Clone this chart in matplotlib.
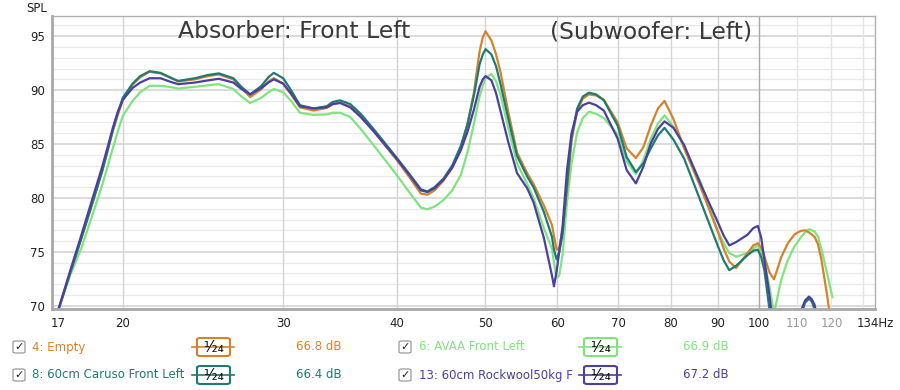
import matplotlib
matplotlib.use("Agg")
import matplotlib.pyplot as plt
from matplotlib.patches import FancyBboxPatch
from matplotlib.lines import Line2D
from matplotlib.ticker import NullLocator

# frequency grid (Hz) shared by all four measurements, 10 per line
freq = [16.9, 17.5, 18.0, 18.5, 19.0, 19.5, 19.75, 20.0, 20.5, 20.9,
        21.4, 22.0, 22.5, 23.0, 24.0, 24.8, 25.5, 26.45, 27.0, 27.6,
        28.4, 28.9, 29.3, 30.0, 30.6, 31.3, 32.4, 33.5, 34.0, 34.65,
        35.55, 36.5, 37.7, 40.0, 41.3, 42.5, 43.2, 44.0, 45.0, 46.0,
        47.0, 47.8, 48.6, 49.3, 49.7, 50.05, 50.8, 51.4, 52.0, 53.0,
        54.2, 55.6, 56.5, 58.0, 59.2, 59.5, 59.9, 60.3, 60.8, 61.5,
        62.2, 63.1, 64.0, 65.0, 66.2, 67.5, 69.9, 71.5, 73.2, 74.6,
        76.0, 77.4, 78.7, 80.5, 82.7, 86.3, 90.0, 91.4, 92.7, 94.3,
        97.1, 98.5, 99.65, 100.5, 101.3, 102.6, 103.8, 104.6, 105.7, 107.5,
        109.3, 110.2, 111.2, 112.3, 113.4, 114.2, 115.0, 116.0, 117.0, 118.7,
        120.3]

empty = [69.0, 73.0, 76.2, 79.4, 82.6, 86.2, 87.7, 89.1, 90.5, 91.2,
         91.7, 91.55, 91.2, 90.8, 91.0, 91.3, 91.45, 91.0, 90.2, 89.35,
         90.1, 90.8, 91.1, 90.6, 89.6, 88.4, 88.1, 88.35, 88.7, 88.85,
         88.45, 87.6, 86.2, 83.5, 81.9, 80.4, 80.3, 80.7, 81.6, 82.8,
         84.6, 86.8, 89.8, 93.6, 94.9, 95.45, 94.6, 93.3, 91.6, 88.0,
         84.2, 82.3, 81.3, 79.3, 77.5, 76.5, 75.2, 75.4, 77.0, 80.8,
         85.3, 88.1, 89.2, 89.6, 89.5, 89.1, 87.0, 84.6, 83.7, 84.7,
         86.7, 88.3, 89.0, 87.3, 84.6, 80.9, 76.9, 75.3, 74.1, 73.5,
         74.9, 75.6, 75.8, 75.4, 74.6, 73.1, 72.45, 73.3, 74.5, 75.8,
         76.6, 76.8, 76.95, 77.0, 76.8, 76.6, 76.4, 75.7, 74.3, 71.0,
         67.5]

avaa = [69.0, 72.8, 75.3, 78.3, 81.3, 84.6, 86.2, 87.6, 89.0, 89.8,
        90.4, 90.4, 90.3, 90.15, 90.3, 90.45, 90.55, 90.1, 89.4, 88.8,
        89.3, 89.8, 90.1, 89.8, 89.0, 87.9, 87.7, 87.75, 87.9, 87.9,
        87.5, 86.4, 84.9, 82.1, 80.5, 79.1, 78.95, 79.2, 79.8, 80.7,
        82.1, 84.2, 86.9, 89.4, 90.4, 91.1, 91.5, 90.8, 89.5, 86.5,
        83.2, 81.3, 80.0, 77.2, 75.3, 74.0, 72.6, 72.8, 74.7, 79.6,
        83.2, 86.1, 87.4, 88.0, 87.8, 87.4, 85.9, 83.4, 82.2, 83.5,
        85.5, 86.9, 87.66, 86.6, 84.7, 81.4, 77.0, 75.8, 74.9, 74.55,
        74.9, 75.3, 75.6, 75.0, 74.0, 71.8, 69.3, 70.6, 72.4, 74.25,
        75.5, 75.9, 76.4, 76.8, 77.1, 77.0, 76.9, 76.4, 75.3, 73.0,
        70.8]

caruso = [69.0, 73.0, 76.2, 79.4, 82.6, 86.3, 87.9, 89.3, 90.6, 91.3,
          91.75, 91.6, 91.2, 90.85, 91.1, 91.4, 91.55, 91.1, 90.3, 89.6,
          90.4, 91.2, 91.6, 91.1, 90.0, 88.6, 88.3, 88.5, 88.9, 89.05,
          88.7, 87.8, 86.4, 83.7, 82.2, 80.8, 80.6, 81.0, 81.8, 83.0,
          84.8, 86.8, 89.5, 92.4, 93.3, 93.8, 93.3, 92.2, 90.5, 87.4,
          83.9, 82.0, 81.0, 78.7, 76.4, 75.2, 74.3, 75.0, 76.6, 81.3,
          85.6, 88.3, 89.4, 89.76, 89.6, 89.05, 86.7, 83.8, 82.4, 83.2,
          84.6, 85.8, 86.5, 85.4, 83.65, 79.6, 75.6, 74.2, 73.3, 73.7,
          74.7, 75.1, 75.2, 74.5, 73.3, 69.7, 66.0, 64.0, 62.0, 60.0,
          62.5, 66.0, 69.2, 70.3, 70.65, 70.4, 69.7, 68.0, 65.0, 62.0,
          60.0]

rockwool = [69.0, 73.2, 76.5, 79.8, 83.0, 86.5, 88.0, 89.1, 90.2, 90.7,
            91.1, 91.1, 90.8, 90.55, 90.7, 90.9, 91.05, 90.7, 90.1, 89.6,
            90.2, 90.7, 91.0, 90.6, 89.7, 88.5, 88.3, 88.4, 88.7, 88.8,
            88.4, 87.5, 86.2, 83.6, 82.1, 80.7, 80.55, 80.9, 81.7, 82.8,
            84.4, 86.1, 88.2, 90.3, 91.0, 91.3, 90.9, 89.7, 88.0, 85.2,
            82.3, 80.9, 79.6, 76.3, 72.8, 71.8, 73.2, 75.0, 77.3, 82.6,
            86.0, 88.0, 88.6, 88.84, 88.6, 88.1, 85.5, 82.6, 81.35, 82.9,
            85.05, 86.4, 87.1, 86.5, 84.9, 81.2, 77.8, 76.5, 75.6, 75.9,
            76.6, 77.2, 77.4, 76.3, 74.3, 71.0, 67.5, 65.0, 62.0, 60.0,
            63.0, 66.5, 69.6, 70.5, 70.85, 70.6, 70.1, 68.6, 66.0, 62.0,
            60.0]

names = ["4: Empty", "6: AVAA Front Left", "8: 60cm Caruso Front Left",
         "13: 60cm Rockwool50kg F"]
levels = ["66.8 dB", "66.9 dB", "66.4 dB", "67.2 dB"]
colors = ["#d4832b", "#80e47e", "#1f7b72", "#4b40a2"]

xticks = [17, 20, 30, 40, 50, 60, 70, 80, 90, 100, 110, 120, 134]
xlabels = ["17", "20", "30", "40", "50", "60", "70", "80", "90", "100", "110", "120", "134Hz"]

W, H = 900, 390
fig = plt.figure(figsize=(9, 3.9), dpi=100)
ax = fig.add_axes([52 / W, 1 - 309 / H, (875 - 52) / W, (309 - 15.7) / H])

ax.set_xscale("log")
ax.set_xlim(16.72, 134)
ax.set_ylim(69.7, 96.9)

# grid: 1 dB minor, 5 dB major, vertical lines at the labelled frequencies
for v in range(70, 97):
    if v % 5 == 0:
        ax.axhline(v, color="#d2d2d2", lw=1.1, zorder=0)
    else:
        ax.axhline(v, color="#e9e9e9", lw=0.9, zorder=0)
for f in [20, 30, 40, 50, 60, 70, 80, 90]:
    ax.axvline(f, color="#d4d4d4", lw=1.0, zorder=0)
ax.axvline(100, color="#a8a8a8", lw=1.0, zorder=0)
for f in [110, 120, 130]:
    ax.axvline(f, color="#e4e4e4", lw=1.0, zorder=0)

# draw order: green under, purple on top
for vals, c in zip([avaa, empty, caruso, rockwool],
                   [colors[1], colors[0], colors[2], colors[3]]):
    ax.plot(freq, vals, color=c, lw=1.6, solid_joinstyle="round", zorder=2)

ax.set_xticks(xticks)
ax.set_xticklabels(xlabels)
ax.xaxis.set_minor_locator(NullLocator())
ax.set_yticks([70, 75, 80, 85, 90, 95])
ax.tick_params(length=0, labelsize=8.5, colors="#222222")
ax.tick_params(axis="x", pad=6)
ax.tick_params(axis="y", pad=5)
for lab in ax.get_xticklabels():
    if lab.get_text() in ("110", "120"):
        lab.set_color("#999999")

for side in ["top", "right"]:
    ax.spines[side].set_color("#b0b0b0")
    ax.spines[side].set_linewidth(1.0)
for side in ["left", "bottom"]:
    ax.spines[side].set_color("#a8a8a8")
    ax.spines[side].set_linewidth(2.0)

fig.text(37 / W, 1 - 8 / H, "SPL", fontsize=8.5, ha="center", va="center", color="#222222")

fig.text(178 / W, 1 - 32 / H, "Absorber: Front Left", fontsize=16.9,
         color="#3a3a3a", ha="left", va="center", zorder=5)
fig.text(550 / W, 1 - 32 / H, "(Subwoofer: Left)", fontsize=16.9,
         color="#3a3a3a", ha="left", va="center", zorder=5)


def px(x, y):
    return x / W, 1 - y / H


# legend rows below the plot
rows = [347, 375]
cols = [(19, 32, 192, 296), (405, 419, 579, 683)]
entries = [(0, 0), (0, 1), (1, 0), (1, 1)]  # (row, col) per series
for i, (r, cidx) in enumerate(entries):
    y = rows[r]
    cb, lx, bx, dx = cols[cidx]
    c = colors[i]
    # checkbox
    fig.add_artist(FancyBboxPatch(px(cb - 6, y + 6), 12 / W, 12 / H,
                                  boxstyle="round,pad=0,rounding_size=0.003",
                                  transform=fig.transFigure, fc="white",
                                  ec="#9a9a9a", lw=0.9))
    fig.text(*px(cb, y), "\u2713", fontsize=8, ha="center", va="center", color="#222222")
    fig.text(*px(lx, y), names[i], fontsize=8.5, ha="left", va="center", color=c)
    # smoothing box
    fig.add_artist(Line2D([bx / W, (bx + 42) / W], [1 - y / H, 1 - y / H],
                          transform=fig.transFigure, color=c, lw=1.2))
    fig.add_artist(FancyBboxPatch(px(bx + 5, y + 9), 33 / W, 18 / H,
                                  boxstyle="round,pad=0,rounding_size=0.004",
                                  transform=fig.transFigure, fc="white",
                                  ec=c, lw=1.5))
    fig.text(*px(bx + 21.5, y), "\u00b9\u2044\u2082\u2084", fontsize=11,
             ha="center", va="center", color="#111111")
    fig.text(*px(dx, y), levels[i], fontsize=8.5, ha="left", va="center", color=c)

fig.savefig("out.png", dpi=100, facecolor="white")
